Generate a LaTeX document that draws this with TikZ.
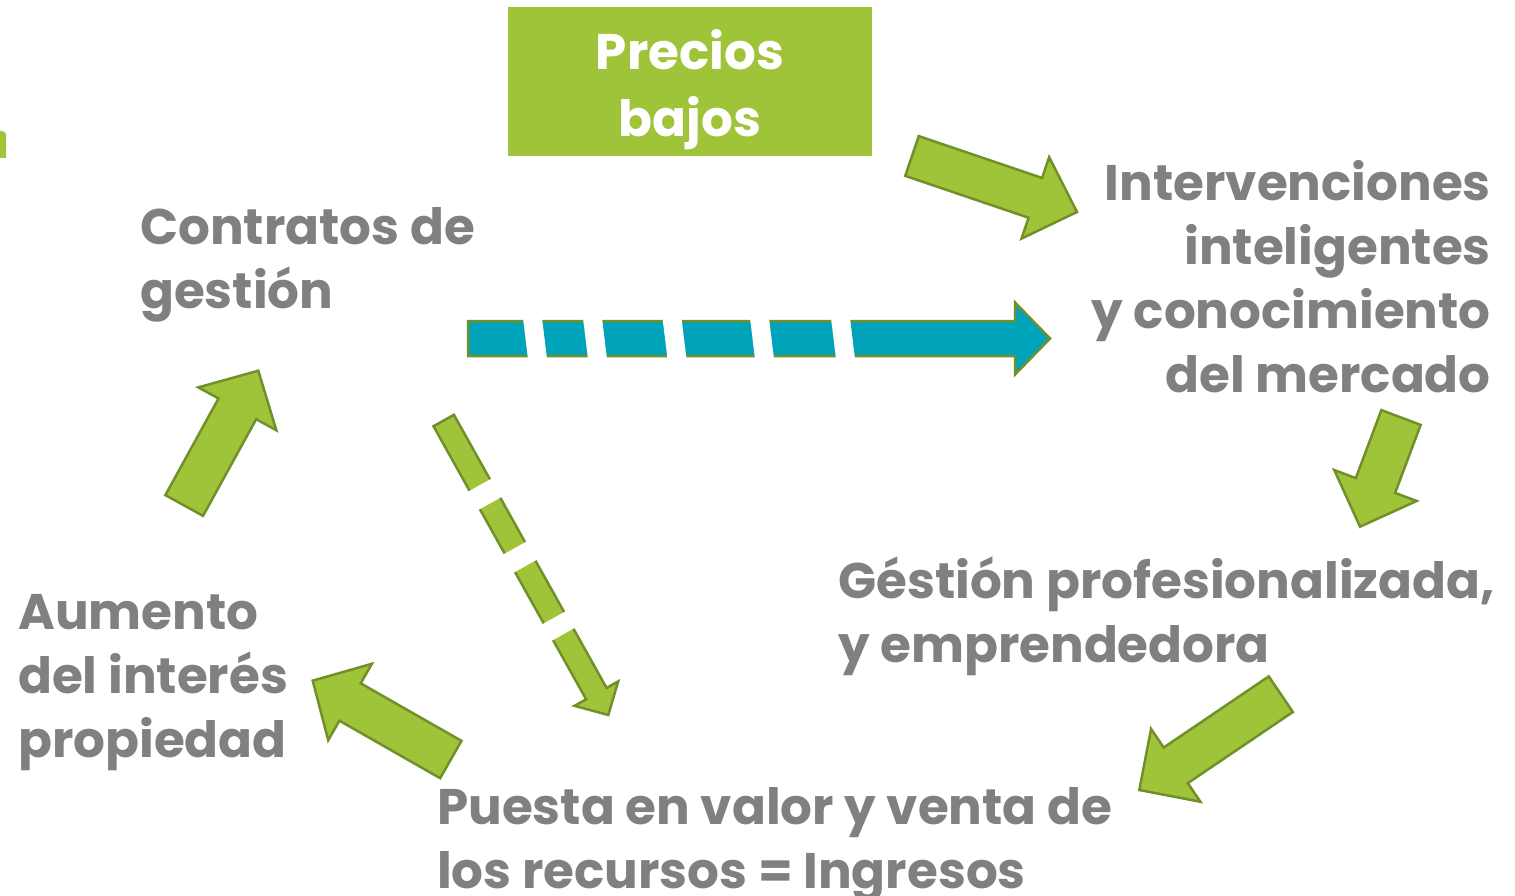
\documentclass[tikz,border=0pt]{standalone}
\usepackage{fontspec}
\setmainfont{Poppins}
\usepackage{tikz}
\usetikzlibrary{calc}
\definecolor{leafgreen}{HTML}{9FC43A}
\definecolor{leafedge}{HTML}{71902A}
\definecolor{seateal}{HTML}{00A4BA}
\definecolor{labelgray}{HTML}{808080}
\tikzset{
	label/.style={text=labelgray, font=\fontsize{50}{64}\selectfont\bfseries, inner sep=0pt, align=left},
	pricebox/.style={fill=leafgreen, inner sep=0pt, minimum width=364, minimum height=149},
	pricetext/.style={text=white, font=\fontsize{50}{67}\selectfont\bfseries, align=center, inner sep=0pt},
	fatarrow/.style={fill=leafgreen, draw=leafedge, line width=2.5pt, line join=miter},
	gap/.style={fill=white, draw=none},
}
% block arrow: [style]{tail}{tip}{shaft half width}{head half width}{head length}
\newcommand{\blockarrow}[6][]{%
	\coordinate (ba-h) at ($(#3)!#6!(#2)$);
	\draw[fatarrow,#1] ($(#2)!#4!90:(#3)$) -- ($(ba-h)!#4!90:(#3)$) -- ($(ba-h)!#5!90:(#3)$)
		-- (#3) -- ($(ba-h)!#5!-90:(#3)$) -- ($(ba-h)!#4!-90:(#3)$) -- ($(#2)!#4!-90:(#3)$) -- cycle;
}
\begin{document}
\begin{tikzpicture}[x=1pt,y=-1pt]
	\useasboundingbox (0,0) rectangle (1515,896);

	% the texts (anchored at the baseline of their last line)
	\node[pricebox] (precios) at (690,81.5) {};
	\node[pricetext, anchor=base] (precios-text) at (690,137) {Precios\\bajos};
	\node[label, anchor=base west] (contratos) at (140,308) {Contratos de\\gestión};
	\node[label, anchor=base east, align=right] (interv) at (1491,392) {Intervenciones\\inteligentes\\y conocimiento\\del mercado};
	\node[label, anchor=base west] (gestion) at (838,662) {Géstión profesionalizada,\\y emprendedora};
	\node[label, anchor=base west] (puesta) at (437,888) {Puesta en valor y venta de\\los recursos = Ingresos};
	\node[label, anchor=base west] (aumento) at (18,757) {Aumento\\del interés\\propiedad};

	% cut-off letter at the left edge
	\fill[leafgreen] (0,158) -- (0,131) -- (2,131) .. controls (5,131) and (6,133) .. (6,137) -- (6,158) -- cycle;

	% the cycle arrows
	\coordinate (precios-out) at (912,156);   \coordinate (interv-in) at (1077,212);
	\coordinate (interv-out) at (1401,417.5); \coordinate (gestion-in) at (1360,526.7);
	\coordinate (gestion-out) at (1280.8,694.2); \coordinate (puesta-in) at (1139.3,790);
	\coordinate (puesta-out) at (450.8,759.5); \coordinate (aumento-in) at (312.7,680.7);
	\coordinate (aumento-out) at (184.2,505.5); \coordinate (contratos-in) at (258.3,370.7);
	\blockarrow{precios-out}{interv-in}{21pt}{43pt}{44pt}
	\blockarrow{interv-out}{gestion-in}{21pt}{44pt}{44pt}
	\blockarrow{gestion-out}{puesta-in}{21.5pt}{44pt}{44pt}
	\blockarrow{puesta-out}{aumento-in}{21.5pt}{44pt}{43pt}
	\blockarrow{aumento-out}{contratos-in}{21.5pt}{44.5pt}{43.5pt}

	% dashed teal arrow
	\coordinate (contratos-east) at (468,338.5); \coordinate (interv-west) at (1050,338.5);
	\blockarrow[fill=seateal]{contratos-east}{interv-west}{17.5pt}{36pt}{35pt}
	\foreach \c in {535,595,674.5,762,843}
		\fill[gap] (\c-12.5,314) -- (\c+6.5,314) -- (\c+12.5,363) -- (\c-6.5,363) -- cycle;

	% dashed green arrow
	\coordinate (contratos-south) at (443.7,420.5); \coordinate (puesta-north) at (608.3,715);
	\blockarrow{contratos-south}{puesta-north}{11.7pt}{25pt}{24.5pt}
	\foreach \a/\b in {74pt/95pt, 146pt/167pt, 226pt/245pt}{
		\coordinate (g1) at ($(contratos-south)!\a!(puesta-north)$);
		\coordinate (g2) at ($(contratos-south)!\b!(puesta-north)$);
		\fill[gap] ($(g1)!16pt!90:(puesta-north)$) -- ($(g2)!16pt!90:(puesta-north)$)
			-- ($(g2)!16pt!-90:(puesta-north)$) -- ($(g1)!16pt!-90:(puesta-north)$) -- cycle;
	}
\end{tikzpicture}
\end{document}
